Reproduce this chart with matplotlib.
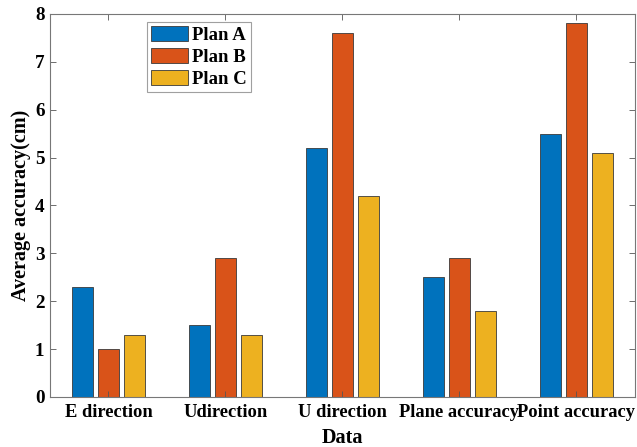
import matplotlib
matplotlib.use("Agg")
import matplotlib.pyplot as plt
import numpy as np

categories = ["E direction", "Udirection", "U direction", "Plane accuracy", "Point accuracy"]
plan_a = [2.3, 1.5, 5.2, 2.5, 5.5]
plan_b = [1.0, 2.9, 7.6, 2.9, 7.8]
plan_c = [1.3, 1.3, 4.2, 1.8, 5.1]
series_names = ["Plan A", "Plan B", "Plan C"]
colors = ["#0072BD", "#D95319", "#EDB120"]

plt.rcParams["font.family"] = ["Liberation Serif", "DejaVu Serif"]
plt.rcParams["font.weight"] = "bold"

fig = plt.figure(figsize=(6.37, 4.47), dpi=100)
ax = fig.add_axes([0.0785, 0.112, 0.918, 0.857])

x = np.arange(1, len(categories) + 1)
width = 0.18
offset = 0.222
for i, (vals, name, c) in enumerate(zip([plan_a, plan_b, plan_c], series_names, colors)):
    ax.bar(x + (i - 1) * offset, vals, width, color=c, edgecolor="#3a3a3a",
           linewidth=0.6, label=name)

tick_fs = 13.3
ax.set_xlim(0.5, 5.5)
ax.set_ylim(0, 8)
ax.set_xticks(x)
ax.set_xticklabels(categories, fontsize=tick_fs, fontweight="bold")
ax.set_yticks(range(0, 9))
ax.tick_params(axis="y", labelsize=13.8, pad=4)
ax.tick_params(axis="x", pad=5)
for lab in ax.get_yticklabels():
    lab.set_fontweight("bold")
ax.tick_params(direction="in", top=True, right=True, length=4, width=0.6,
               color="#555555")
for s in ax.spines.values():
    s.set_color("#777777")
    s.set_linewidth(0.8)

ax.set_xlabel("Data", fontsize=14.5, fontweight="bold", labelpad=5)
ax.set_ylabel("Average accuracy(cm)", fontsize=14.5, fontweight="bold", labelpad=3)

leg = ax.legend(loc="upper left", bbox_to_anchor=(0.166, 0.979),
                prop={"weight": "bold", "size": 13.5}, frameon=True, fancybox=False,
                edgecolor="#888888", handlelength=2.0, handleheight=0.9,
                borderpad=0.2, labelspacing=0.2, handletextpad=0.2, borderaxespad=0)
leg.get_frame().set_linewidth(0.8)

fig.savefig("out.png", dpi=100)
